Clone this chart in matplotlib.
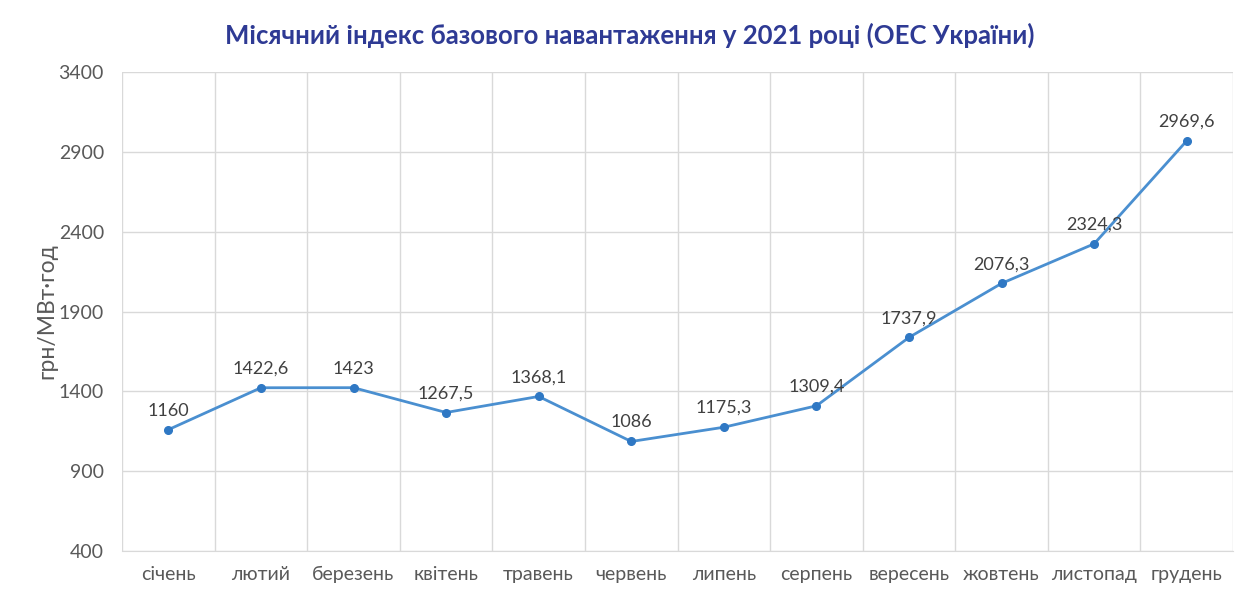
import numpy as np
import matplotlib.pyplot as plt

plt.rcParams['font.family'] = ['Lato', 'DejaVu Sans']

months = ['січень', 'лютий', 'березень', 'квітень', 'травень', 'червень',
          'липень', 'серпень', 'вересень', 'жовтень', 'листопад', 'грудень']
values = [1160, 1422.6, 1423, 1267.5, 1368.1, 1086,
          1175.3, 1309.4, 1737.9, 2076.3, 2324.3, 2969.6]
labels = ['1160', '1422,6', '1423', '1267,5', '1368,1', '1086',
          '1175,3', '1309,4', '1737,9', '2076,3', '2324,3', '2969,6']
yticks = [400, 900, 1400, 1900, 2400, 2900, 3400]

grey = '#595959'
line_c = '#4a8fd0'

fig = plt.figure(figsize=(12.48, 5.91), dpi=100)
ax = fig.add_axes([0.0978, 0.0677, 0.8902, 0.8103])

x = np.arange(len(months))
ax.plot(x, values, color=line_c, lw=2, marker='o', ms=5.5,
        markerfacecolor='#2f78c4', markeredgecolor='#2f78c4', zorder=3)
for xi, v, t in zip(x, values, labels):
    ax.annotate(t, (xi, v), xytext=(0, 8), textcoords='offset points',
                ha='center', va='bottom', fontsize=13, color='#404040')

ax.set_xlim(-0.5, len(months) - 0.5)
ax.set_ylim(400, 3400)
ax.set_yticks(yticks)
ax.set_yticklabels([str(t) for t in yticks])
ax.set_xticks(x)
ax.set_xticklabels(months)
ax.set_xticks(np.arange(-0.5, len(months)), minor=True)

ax.grid(axis='y', color='#d9d9d9', lw=1)
ax.grid(axis='x', which='minor', color='#d9d9d9', lw=1)
ax.tick_params(axis='both', which='both', length=0, colors=grey, labelsize=14)
ax.tick_params(axis='x', pad=11)
ax.tick_params(axis='y', pad=13)
for s in ['top', 'right', 'left']:
    ax.spines[s].set_visible(False)
ax.spines['bottom'].set_color('#d9d9d9')

ax.set_ylabel('грн/МВт·год', fontsize=16.5, color=grey, labelpad=1)
fig.text(0.505, 0.94, 'Місячний індекс базового навантаження у 2021 році (ОЕС України)',
         ha='center', va='center', fontsize=18.5, fontweight='bold', color='#2e3a94')

fig.savefig('out.png', dpi=100)
